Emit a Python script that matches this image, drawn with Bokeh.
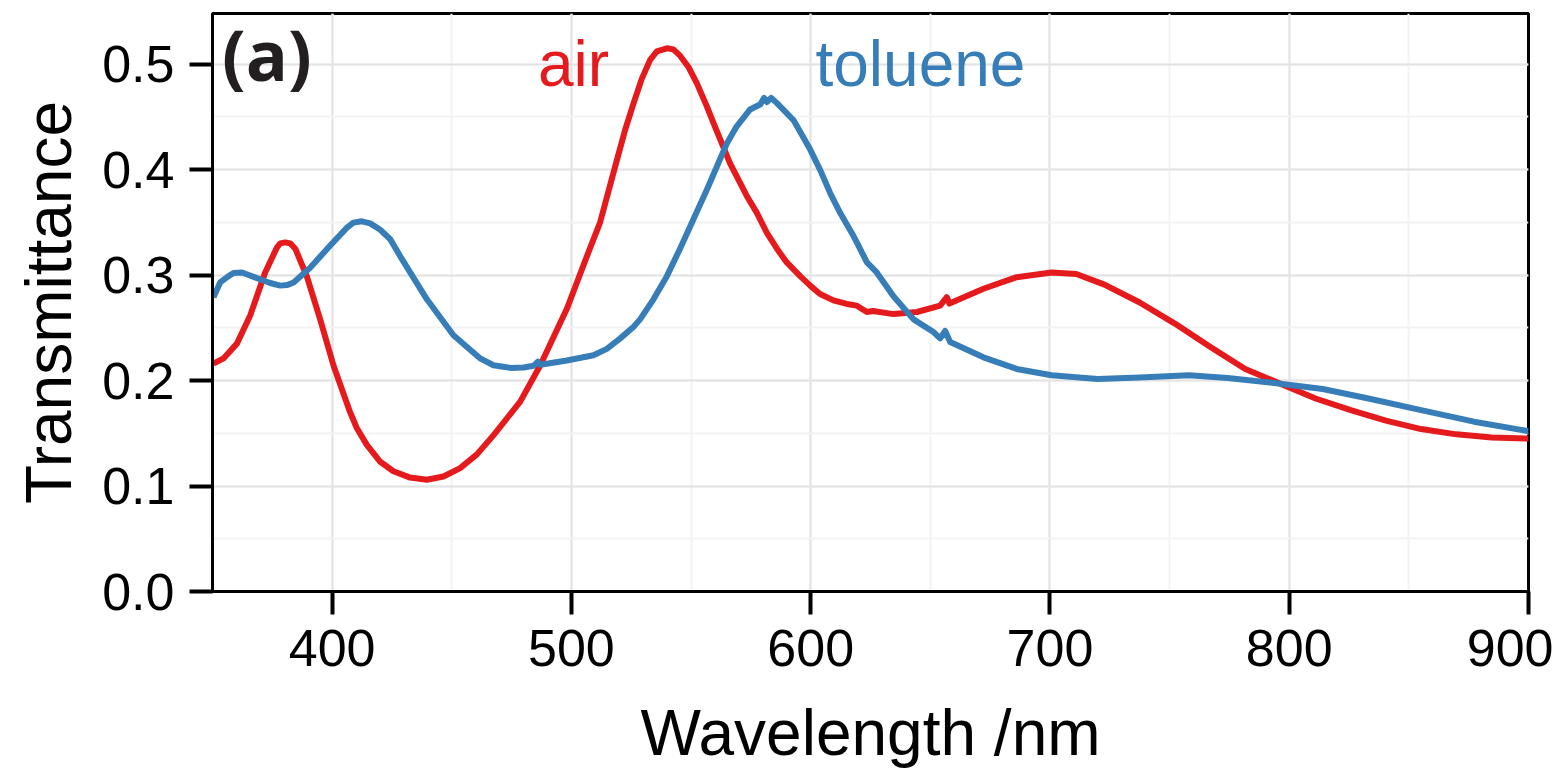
from bokeh.plotting import figure
from bokeh.models import Range1d, SingleIntervalTicker, NumeralTickFormatter, Label
from bokeh.embed import file_html
from bokeh.resources import INLINE

# ---- data ----
air_wl = [350.4, 354.6, 360.2, 365.8, 372.0, 376.9, 378.3, 380.4, 382.5, 384.6,
          389.4, 395.0, 400.6, 407.5, 410.3, 414.5, 420.1, 425.6, 432.6, 439.6,
          446.5, 453.5, 460.5, 467.4, 478.6, 486.9, 492.5, 498.1, 502.3, 506.5,
          512.0, 519.0, 522.5, 526.0, 529.4, 532.9, 535.7, 539.9, 542.6, 545.4,
          549.0, 552.4, 556.6, 559.4, 566.3, 573.3, 577.5, 581.7, 585.9, 590.0,
          595.6, 599.8, 603.9, 609.5, 615.1, 619.3, 623.5, 626.0, 634.6, 644.4,
          654.1, 656.9, 658.0, 672.2, 686.1, 700.7, 711.0, 722.8, 737.5, 752.2,
          766.9, 781.6, 796.3, 811.0, 825.7, 840.4, 855.1, 869.9, 884.6, 900.0]
air_T = [0.216, 0.221, 0.235, 0.262, 0.3025, 0.326, 0.330, 0.331, 0.330, 0.325,
         0.299, 0.258, 0.214, 0.170, 0.155, 0.139, 0.123, 0.114, 0.108, 0.106,
         0.109, 0.117, 0.130, 0.148, 0.180, 0.214, 0.241, 0.268, 0.293, 0.318,
         0.350, 0.409, 0.438, 0.463, 0.486, 0.504, 0.512, 0.515, 0.514, 0.508,
         0.497, 0.482, 0.460, 0.444, 0.406, 0.375, 0.359, 0.340, 0.325, 0.312,
         0.299, 0.290, 0.282, 0.276, 0.2726, 0.271, 0.265, 0.266, 0.263, 0.265,
         0.271, 0.279, 0.273, 0.287, 0.298, 0.3025, 0.301, 0.291, 0.274, 0.254,
         0.232, 0.211, 0.197, 0.183, 0.172, 0.162, 0.154, 0.149, 0.146, 0.145]

tol_wl = [350.4, 353.2, 356.7, 358.8, 362.3, 369.9, 374.1, 378.3, 381.1, 383.9,
          390.8, 399.2, 406.2, 408.9, 412.4, 415.9, 420.1, 424.3, 428.4, 439.6,
          450.7, 461.9, 467.4, 474.4, 480.0, 484.2, 486.0, 487.0, 498.1, 509.2,
          514.8, 520.4, 526.0, 528.7, 534.3, 539.9, 545.4, 551.0, 556.6, 560.8,
          565.0, 569.1, 574.7, 579.0, 580.5, 581.7, 583.5, 585.9, 592.8, 595.6,
          599.8, 603.9, 608.1, 612.3, 617.9, 619.5, 623.5, 627.6, 634.6, 643.0,
          651.3, 654.1, 656.2, 658.3, 672.2, 686.1, 700.7, 719.9, 737.5, 758.1,
          774.3, 796.3, 814.0, 833.1, 855.1, 877.2, 900.0]
tol_T = [0.279, 0.293, 0.299, 0.302, 0.3025, 0.296, 0.2925, 0.290, 0.2905, 0.293,
         0.307, 0.328, 0.345, 0.3497, 0.351, 0.349, 0.343, 0.334, 0.318, 0.277,
         0.243, 0.221, 0.2145, 0.212, 0.2123, 0.214, 0.218, 0.215, 0.219, 0.224,
         0.230, 0.240, 0.251, 0.258, 0.277, 0.299, 0.325, 0.353, 0.381, 0.403,
         0.425, 0.441, 0.457, 0.462, 0.468, 0.464, 0.468, 0.463, 0.447, 0.436,
         0.419, 0.400, 0.378, 0.359, 0.337, 0.330, 0.312, 0.3025, 0.280, 0.258,
         0.246, 0.240, 0.247, 0.2365, 0.222, 0.211, 0.205, 0.2015, 0.203, 0.205,
         0.2025, 0.197, 0.192, 0.183, 0.172, 0.161, 0.152]

x_limits = (350, 900)
y_limits = (0.0, 0.548)

RED = "#e41a1c"
BLUE = "#377eb8"

p = figure(width=1553, height=771, output_backend="svg", toolbar_location=None,
           x_range=Range1d(*x_limits), y_range=Range1d(*y_limits),
           min_border_left=212, min_border_right=25, min_border_top=13,
           min_border_bottom=179)

p.background_fill_color = "white"
p.border_fill_color = "white"
p.outline_line_color = "black"
p.outline_line_width = 3

p.xaxis.ticker = SingleIntervalTicker(interval=100, num_minor_ticks=2)
p.yaxis.ticker = SingleIntervalTicker(interval=0.1, num_minor_ticks=2)
p.xgrid.ticker = p.xaxis.ticker
p.ygrid.ticker = p.yaxis.ticker
p.yaxis.formatter = NumeralTickFormatter(format="0.0")

for g in (p.xgrid, p.ygrid):
    g.grid_line_color = "#e3e3e3"
    g.grid_line_width = 2
    g.minor_grid_line_color = "#f3f3f3"
    g.minor_grid_line_width = 2

for ax in (p.xaxis, p.yaxis):
    ax.axis_line_color = "black"
    ax.axis_line_width = 3
    ax.major_tick_line_color = "black"
    ax.major_tick_line_width = 4
    ax.major_tick_out = 23
    ax.major_tick_in = 0
    ax.minor_tick_out = 0
    ax.minor_tick_in = 0
    ax.major_label_text_font = "Liberation Sans"
    ax.major_label_text_font_size = "52px"
    ax.major_label_text_color = "black"
    ax.major_label_standoff = 15
    ax.axis_label_text_font = "Liberation Sans"
    ax.axis_label_text_font_size = "64px"
    ax.axis_label_text_font_style = "normal"
    ax.axis_label_text_color = "black"

p.xaxis.axis_label = "Wavelength /nm"
p.yaxis.axis_label = "Transmittance"
p.xaxis.axis_label_standoff = 28
p.yaxis.axis_label_standoff = 14

p.line(air_wl, air_T, line_color=RED, line_width=6, line_join="round")
p.line(tol_wl, tol_T, line_color=BLUE, line_width=6, line_join="round")

p.add_layout(Label(x=354, y=0.510, text="(a)", text_font="Open Sans",
                   text_font_style="bold", text_font_size="70px",
                   text_color="#231f20", text_baseline="middle"))
p.add_layout(Label(x=486, y=0.500, text="air", text_font="Liberation Sans",
                   text_font_size="64px", text_color=RED, text_baseline="middle"))
p.add_layout(Label(x=602, y=0.500, text="toluene", text_font="Liberation Sans",
                   text_font_size="64px", text_color=BLUE, text_baseline="middle"))

open("out.html", "w").write(file_html(p, INLINE))
